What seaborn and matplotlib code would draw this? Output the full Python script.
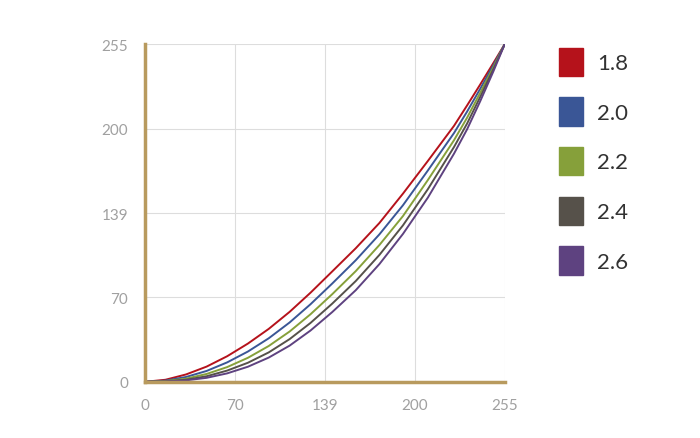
import numpy as np
import pandas as pd
import matplotlib.pyplot as plt
import seaborn as sns
from matplotlib.patches import Patch

# input levels and output levels
x = [0, 16, 32, 48, 64, 80, 96, 112, 128, 144, 160, 176, 192, 208, 224, 232, 240, 248, 255]
y18 = [0, 1.7, 6.1, 12.6, 21.2, 31.7, 43.9, 58.0, 73.8, 91.2, 110.2, 130.8, 153.0, 176.6, 201.8, 215.1, 228.7, 242.6, 255]
y20 = [0, 1.0, 4.0, 9.0, 16.1, 25.1, 36.1, 49.2, 64.3, 81.3, 100.4, 121.5, 144.6, 169.7, 196.8, 211.1, 225.9, 241.2, 255]
y22 = [0, 0.6, 2.6, 6.5, 12.2, 19.9, 29.7, 41.7, 56.0, 72.6, 91.5, 112.8, 136.5, 162.8, 191.6, 207.1, 223.3, 239.8, 255]
y24 = [0, 0.3, 1.7, 4.6, 9.3, 15.8, 24.4, 35.4, 48.8, 64.8, 83.4, 104.7, 128.9, 156.2, 186.7, 203.3, 220.6, 238.5, 255]
y26 = [0, 0.2, 1.2, 3.3, 7.0, 12.5, 20.1, 30.0, 42.5, 57.8, 75.9, 97.2, 121.9, 150.1, 181.9, 199.5, 217.8, 237.1, 255]
labels = ['1.8', '2.0', '2.2', '2.4', '2.6']
colors = ['#b5121b', '#3a5696', '#86a03a', '#56514a', '#5e4280']
ticks = [0, 70, 139, 200, 255]

df = pd.concat([pd.DataFrame({'x': x, 'y': ys, 'gamma': g})
                for g, ys in zip(labels, [y18, y20, y22, y24, y26])])

# ticks are evenly spaced on the axes -> piecewise linear scale
pos = np.arange(len(ticks), dtype=float)
def fwd(v):
    return np.interp(v, ticks, pos)
def inv(p):
    return np.interp(p, pos, ticks)

sns.set_style('white')
plt.rcParams['font.family'] = ['Lato', 'DejaVu Sans']

fig = plt.figure(figsize=(7, 4.39), dpi=100)
ax = fig.add_axes([0.207, 0.128, 0.514, 0.769])
ax.set_xscale('function', functions=(fwd, inv))
ax.set_yscale('function', functions=(fwd, inv))
sns.lineplot(data=df, x='x', y='y', hue='gamma', palette=colors, linewidth=1.4,
             legend=False, ax=ax, zorder=3)

ax.set_xlim(0, 255)
ax.set_ylim(0, 255)
ax.set_xticks(ticks)
ax.set_yticks(ticks)
ax.set_xticklabels([str(t) for t in ticks])
ax.set_yticklabels([str(t) for t in ticks])
ax.minorticks_off()
ax.grid(True, color='#dddddd', linewidth=0.8)
ax.tick_params(length=0, labelsize=11, colors='#a0a0a0', pad=12)
ax.set_xlabel('')
ax.set_ylabel('')
for s in ['top', 'right']:
    ax.spines[s].set_visible(False)
for s in ['left', 'bottom']:
    ax.spines[s].set_color('#b89a5e')
    ax.spines[s].set_linewidth(2.5)
    ax.spines[s].set_zorder(4)

handles = [Patch(facecolor=c, edgecolor=c) for c in colors]
fig.legend(handles, labels, loc='upper left', bbox_to_anchor=(0.77, 0.935),
           frameon=False, fontsize=16, handlelength=1.1, handleheight=1.6,
           labelspacing=0.95, handletextpad=0.6, labelcolor='#333333')

fig.savefig('out.png', dpi=100)
